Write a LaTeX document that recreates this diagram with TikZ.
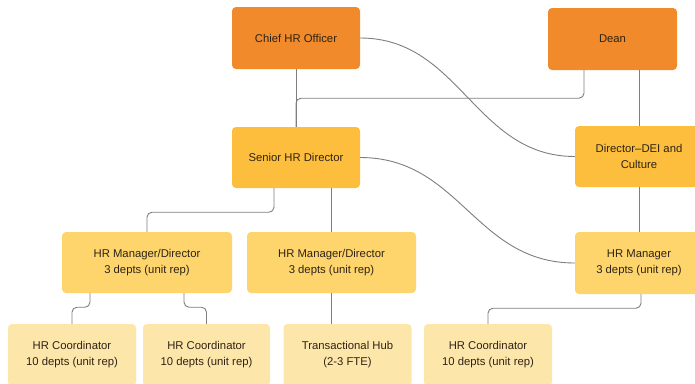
\documentclass[tikz,border=0pt]{standalone}
\usepackage{fontspec}
\setmainfont{Liberation Sans}
\definecolor{lvlA}{HTML}{F08A2A}
\definecolor{lvlB}{HTML}{FCBE3C}
\definecolor{lvlC}{HTML}{FDD56C}
\definecolor{lvlD}{HTML}{FDE6AA}
\definecolor{txt}{HTML}{2E2316}
\definecolor{wire}{HTML}{7E7E7E}
\tikzset{
  box/.style={rounded corners=4pt, inner sep=2pt, align=center, text=txt,
    font=\fontsize{11.3}{16}\selectfont, minimum width=128pt, minimum height=61pt},
  wire/.style={draw=wire, line width=0.9pt, rounded corners=5pt},
  curvewire/.style={draw=wire, line width=0.9pt},
}
\begin{document}
\begin{tikzpicture}[x=1pt,y=-1pt]
\clip (0,0) rectangle (695,383);
\fill[white] (0,0) rectangle (695,383);
% level 1
\node[box, fill=lvlA, minimum height=62pt] (chief) at (296,38) {Chief HR Officer};
\node[box, fill=lvlA, minimum width=129pt, minimum height=62pt] (dean) at (612.5,39) {Dean};
% level 2
\node[box, fill=lvlB] (shd) at (296,157.5) {Senior HR Director};
\node[box, fill=lvlB] (dei) at (639,156.5) {Director--DEI and\\Culture};
% level 3
\node[box, fill=lvlC, minimum width=170pt] (hrmd1) at (147,262.5) {HR Manager/Director\\3 depts (unit rep)};
\node[box, fill=lvlC, minimum width=169pt] (hrmd2) at (331.5,262.5) {HR Manager/Director\\3 depts (unit rep)};
\node[box, fill=lvlC, minimum height=62pt] (hrm) at (639,263) {HR Manager\\3 depts (unit rep)};
% level 4
\node[box, fill=lvlD, minimum height=62pt] (hrc1) at (72,355) {HR Coordinator\\10 depts (unit rep)};
\node[box, fill=lvlD, minimum width=127pt, minimum height=62pt] (hrc2) at (206.5,355) {HR Coordinator\\10 depts (unit rep)};
\node[box, fill=lvlD, minimum height=62pt] (th) at (347.5,355) {Transactional Hub\\(2-3 FTE)};
\node[box, fill=lvlD, minimum height=62pt] (hrc3) at (488,355) {HR Coordinator\\10 depts (unit rep)};
% connectors
\draw[wire] (chief.south) -- (shd.north);
\draw[wire] ([xshift=-28.5pt]dean.south) -- ++(0,28) -| (shd.north);
\draw[wire] (dei.north |- dean.south) -- (dei.north);
\draw[wire] (dei.south) -- (hrm.north);
\draw[curvewire] (chief.east) .. controls +(100,0) and +(-100,0) .. (dei.west);
\draw[curvewire] (shd.east) .. controls +(100,0) and +(-100,0) .. (hrm.west);
\draw[wire] ([xshift=-22pt]shd.south) -- ++(0,24) -| (hrmd1.north);
\draw[wire] (hrmd2.north |- shd.south) -- (hrmd2.north);
\draw[wire] ([xshift=-57pt]hrmd1.south) -- ++(0,14) -| (hrc1.north);
\draw[wire] ([xshift=37pt]hrmd1.south) -- ++(0,14) -| (hrc2.north);
\draw[wire] (hrmd2.south) -- (hrmd2.south |- th.north);
\draw[wire] ([xshift=2pt]hrm.south) -- ++(0,14) -| (hrc3.north);
\end{tikzpicture}
\end{document}
